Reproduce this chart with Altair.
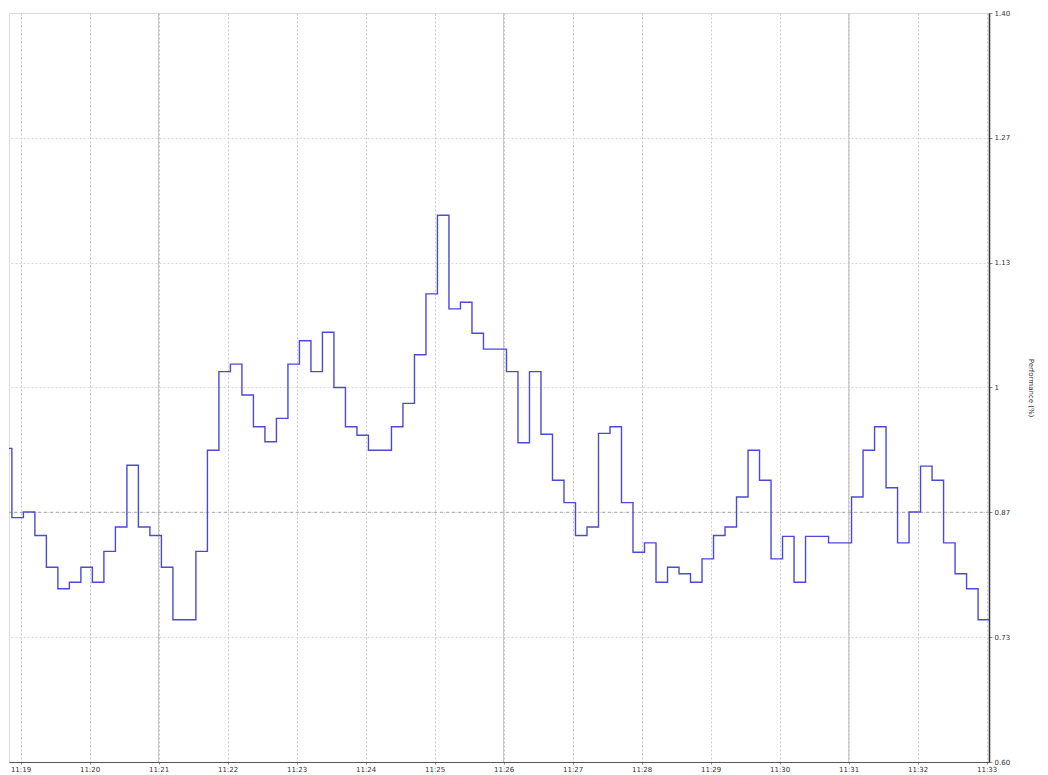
import altair as alt
import pandas as pd

# step values every 10 s, first step begins 11:18:42.5 (clipped at left edge)
values = [0.935, 0.861, 0.867, 0.842, 0.808, 0.785, 0.792, 0.808, 0.792, 0.825,
          0.851, 0.917, 0.851, 0.842, 0.808, 0.752, 0.752, 0.825, 0.933, 1.017,
          1.025, 0.992, 0.958, 0.942, 0.967, 1.025, 1.050, 1.017, 1.059, 1.000,
          0.958, 0.949, 0.933, 0.933, 0.958, 0.983, 1.035, 1.100, 1.184, 1.084,
          1.091, 1.058, 1.041, 1.041, 1.017, 0.941, 1.017, 0.950, 0.901, 0.877,
          0.842, 0.851, 0.951, 0.958, 0.877, 0.824, 0.834, 0.792, 0.808, 0.801,
          0.792, 0.817, 0.842, 0.851, 0.883, 0.933, 0.901, 0.817, 0.841, 0.792,
          0.841, 0.841, 0.834, 0.834, 0.883, 0.933, 0.958, 0.893, 0.834, 0.867,
          0.916, 0.901, 0.834, 0.801, 0.785, 0.752]
start_time = "2024-01-01 11:18:42.500"
minute_ticks = ["11:19", "11:20", "11:21", "11:22", "11:23", "11:24", "11:25", "11:26",
                "11:27", "11:28", "11:29", "11:30", "11:31", "11:32", "11:33"]
y_ticks = [0.6, 0.7333, 0.8667, 1.0, 1.1333, 1.2667, 1.4]
ref_level = [0.8667]
major_minutes = ["11:21", "11:26", "11:31"]

times = pd.date_range(start_time, periods=len(values) + 1, freq="10s")
vals = values + [values[-1]]
df = pd.DataFrame({
    "t": [t.strftime("%Y-%m-%dT%H:%M:%S.%f")[:-3] for t in times],
    "v": vals,
})

def dt(hm, s=0):
    h, m = hm.split(":")
    return alt.DateTime(year=2024, month=1, date=1, hours=int(h), minutes=int(m), seconds=s)

x_dom = [alt.DateTime(year=2024, month=1, date=1, hours=11, minutes=18, seconds=50),
         alt.DateTime(year=2024, month=1, date=1, hours=11, minutes=33, seconds=2)]

xscale = alt.Scale(domain=x_dom)
yscale = alt.Scale(domain=[0.6, 1.4], nice=False, zero=False)

line = alt.Chart(df).mark_line(interpolate="step-after", color="#4a4ad4",
                               strokeWidth=1.4, clip=True).encode(
    x=alt.X("t:T", scale=xscale,
            axis=alt.Axis(values=[dt(m) for m in minute_ticks], format="%H:%M",
                          title=None, labelFontSize=7, labelColor="#333",
                          grid=True, gridDash=[2, 2], gridColor="#c8c8c8",
                          tickSize=2, labelPadding=1, domainColor="#555",
                          labelFlush=False)),
    y=alt.Y("v:Q", scale=yscale,
            axis=alt.Axis(orient="right", values=y_ticks,
                          labelExpr="datum.value == 1 ? '1' : format(datum.value, '.2f')",
                          title="Performance (%)", titleFontSize=7, titleFontWeight="normal",
                          titleColor="#333", titlePadding=18, titleAngle=90,
                          labelFontSize=7, labelColor="#333",
                          grid=True, gridDash=[2, 2], gridColor="#d8d8d8",
                          tickSize=3, domainColor="#333", domainWidth=1.5)),
)

ref_df = pd.DataFrame({"v": ref_level})
ref = alt.Chart(ref_df).mark_rule(color="#a8a8a8", strokeDash=[3, 3], strokeWidth=1).encode(
    y=alt.Y("v:Q", scale=yscale))

maj_df = pd.DataFrame({"t": ["2024-01-01T" + m + ":00" for m in major_minutes]})
maj = alt.Chart(maj_df).mark_rule(color="#c4c4c4", strokeWidth=1).encode(
    x=alt.X("t:T", scale=xscale))

chart = alt.layer(maj, ref, line).properties(
    width=980, height=749,
    padding={"left": 0, "top": 1, "right": 2, "bottom": 0},
).configure_view(stroke="#444", strokeWidth=1).configure(font="DejaVu Sans")

chart.save("out.html", embed_options={"renderer": "svg", "actions": False})
